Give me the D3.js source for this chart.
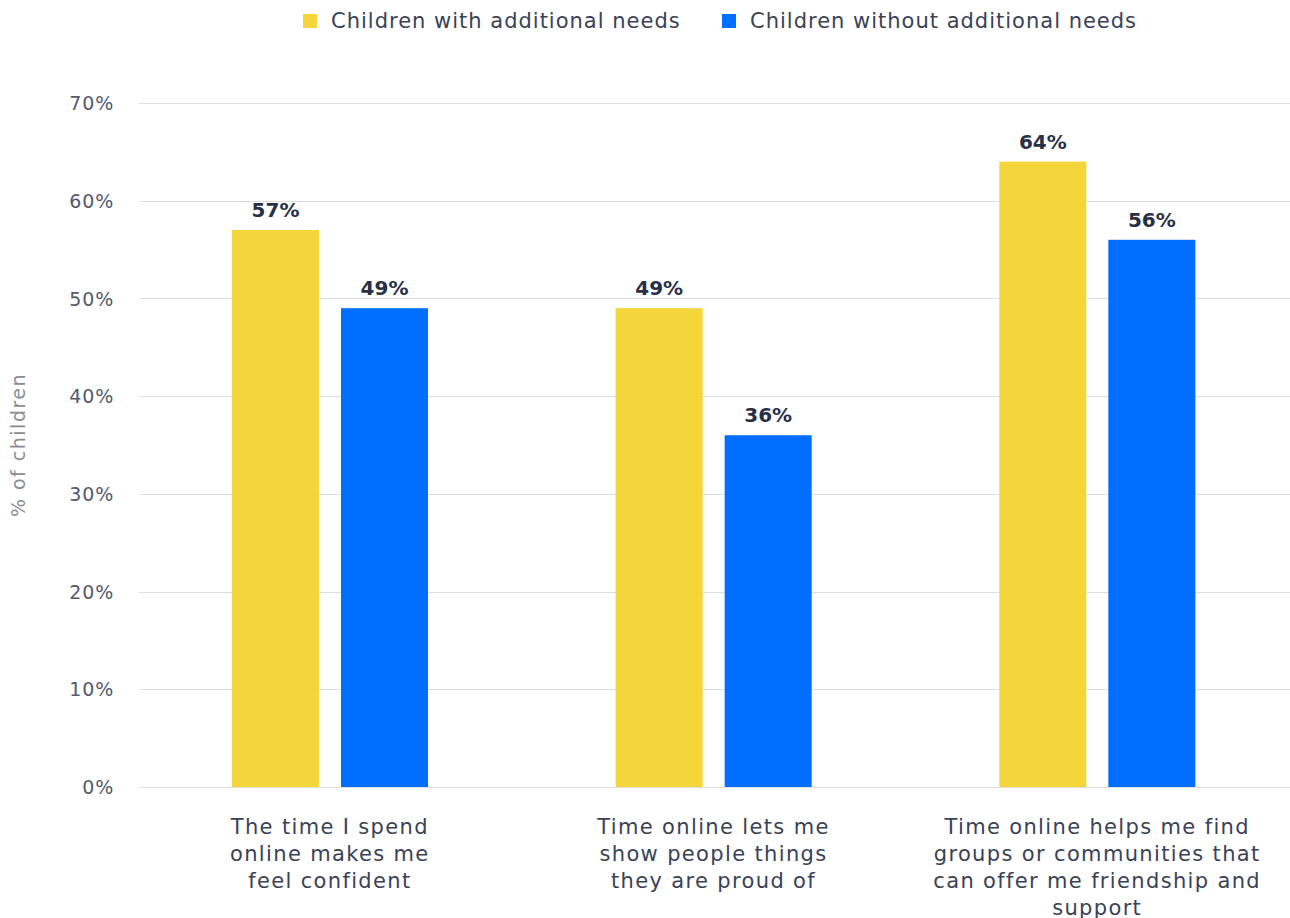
<!DOCTYPE html>
<html>
<head>
<meta charset="utf-8">
<script src="https://cdn.jsdelivr.net/npm/d3@7"></script>
<style>
  html, body { margin: 0; padding: 0; background: #ffffff; }
  svg { display: block; font-family: "DejaVu Sans", sans-serif; }
</style>
</head>
<body>
<svg id="chart" width="1290" height="918"></svg>
<script>
// Statements about time online, with the share of children agreeing
const categories = [
  ["The time I spend", "online makes me", "feel confident"],
  ["Time online lets me", "show people things", "they are proud of"],
  ["Time online helps me find", "groups or communities that", "can offer me friendship and", "support"]
];
const seriesNames = ["Children with additional needs", "Children without additional needs"];
const withNeeds = [57, 49, 64];
const withoutNeeds = [49, 36, 56];
const yTicks = [0, 10, 20, 30, 40, 50, 60, 70];
const colors = ["#F4D53A", "#006FFF"];

const svg = d3.select("#chart");
const margin = { left: 139, right: 0, top: 103, bottom: 131 };
const W = 1290, H = 918;

const x0 = d3.scaleBand()
  .domain(d3.range(categories.length))
  .range([margin.left, W - margin.right])
  .paddingInner(0)
  .paddingOuter(0);

// Pair of bars sits in the left-centre of each category band
const x1 = d3.scaleBand()
  .domain(d3.range(seriesNames.length))
  .range([93, 289])
  .paddingInner(0.2018)
  .paddingOuter(0);

const y = d3.scaleLinear().domain([0, 70]).range([H - margin.bottom, margin.top]);

// Gridlines
svg.append("g")
  .selectAll("line")
  .data(yTicks)
  .join("line")
  .attr("x1", margin.left)
  .attr("x2", W - margin.right)
  .attr("y1", d => Math.round(y(d)) + 0.5)
  .attr("y2", d => Math.round(y(d)) + 0.5)
  .attr("stroke", "#dedede")
  .attr("stroke-width", 1);

// Y axis tick labels
const yAxis = d3.axisLeft(y).tickValues(yTicks).tickFormat(d => d + "%").tickSize(0).tickPadding(0);
const yg = svg.append("g").attr("transform", `translate(${114},0)`).call(yAxis);
yg.select(".domain").remove();
yg.selectAll("text")
  .attr("font-size", 19)
  .attr("letter-spacing", 0.8)
  .attr("fill", "#545a6c")
  .attr("font-family", "DejaVu Sans, sans-serif")
  .attr("dy", "0.35em");

// Axis title
svg.append("text")
  .attr("transform", `translate(25,${445}) rotate(-90)`)
  .attr("text-anchor", "middle")
  .attr("font-size", 19)
  .attr("letter-spacing", 1.5)
  .attr("fill", "#8a8d96")
  .text("% of children");

// Bars
const seriesData = [withNeeds, withoutNeeds];
const groups = svg.append("g")
  .selectAll("g")
  .data(categories.map((c, i) => i))
  .join("g")
  .attr("transform", i => `translate(${x0(i)},0)`);

groups.selectAll("rect")
  .data(i => seriesData.map((s, k) => ({ k, v: s[i] })))
  .join("rect")
  .attr("x", d => x1(d.k))
  .attr("width", x1.bandwidth())
  .attr("y", d => y(d.v))
  .attr("height", d => y(0) - y(d.v))
  .attr("fill", d => colors[d.k]);

// Value labels
groups.selectAll("text.val")
  .data(i => seriesData.map((s, k) => ({ k, v: s[i] })))
  .join("text")
  .attr("class", "val")
  .attr("x", d => x1(d.k) + x1.bandwidth() / 2)
  .attr("y", d => y(d.v) - 13)
  .attr("text-anchor", "middle")
  .attr("font-size", 20)
  .attr("font-weight", "bold")
  .attr("fill", "#283046")
  .text(d => d.v + "%");

// Category labels
const catLabels = svg.append("g")
  .selectAll("text")
  .data(categories)
  .join("text")
  .attr("x", (d, i) => x0(i) + x0.bandwidth() / 2 - 1)
  .attr("y", 834)
  .attr("text-anchor", "middle")
  .attr("font-size", 21)
  .attr("letter-spacing", 1.35)
  .attr("fill", "#3a4256");
catLabels.selectAll("tspan")
  .data(d => d)
  .join("tspan")
  .attr("x", function () { return d3.select(this.parentNode).attr("x"); })
  .attr("dy", (d, j) => j === 0 ? 0 : 27)
  .text(d => d);

// Legend
const legendX = [303, 722];
const legend = svg.append("g")
  .selectAll("g")
  .data(seriesNames)
  .join("g")
  .attr("transform", (d, i) => `translate(${legendX[i]},0)`);
legend.append("rect")
  .attr("x", 0).attr("y", 14)
  .attr("width", 14).attr("height", 14)
  .attr("fill", (d, i) => colors[i]);
legend.append("text")
  .attr("x", 28).attr("y", 28)
  .attr("font-size", 21)
  .attr("letter-spacing", 1)
  .attr("fill", "#3a4256")
  .text(d => d);
</script>
</body>
</html>
